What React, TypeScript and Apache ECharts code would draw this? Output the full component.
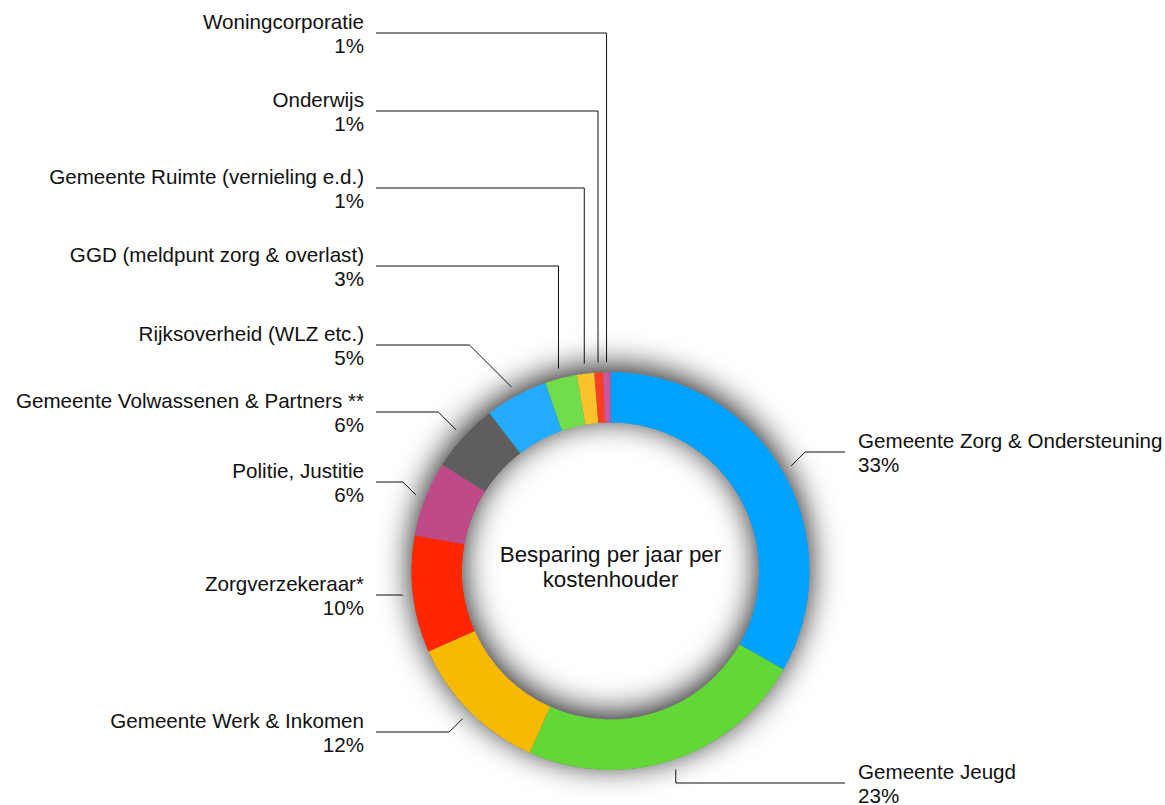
import React, { useEffect, useRef } from 'react';
import * as echarts from 'echarts';

const names = [
  'Gemeente Zorg & Ondersteuning',
  'Gemeente Jeugd',
  'Gemeente Werk & Inkomen',
  'Zorgverzekeraar*',
  'Politie, Justitie',
  'Gemeente Volwassenen & Partners **',
  'Rijksoverheid (WLZ etc.)',
  'GGD (meldpunt zorg & overlast)',
  'Gemeente Ruimte (vernieling e.d.)',
  'Onderwijs',
  'Woningcorporatie',
];
const shares = [33.2, 23.4, 11.7, 9.5, 6.1, 5.6, 5.1, 2.6, 1.4, 0.7, 0.6];
const pctLabels = [33, 23, 12, 10, 6, 6, 5, 3, 1, 1, 1];
const colors = [
  '#00a2ff', '#61d836', '#f8ba00', '#ff2600', '#be4b88', '#5e5e5e',
  '#23abff', '#72dd4c', '#fac32a', '#ff3d22', '#c8579b',
];

// label layout (positions only)
const labelY = [452, 783, 732, 595, 482, 412, 345, 266, 188, 111, 33];
const labelSide = ['right', 'right', 'left', 'left', 'left', 'left', 'left', 'left', 'left', 'left', 'left'];
const bend = ['d', 'v', 'd', 'd', 'd', 'd', 'd', 'v', 'v', 'v', 'v'];

const CX = 610.5;
const CY = 571;
const R0 = 148.5;
const R = 199;
const FONT = "'Liberation Sans', Arial, Helvetica, sans-serif";

export default function App() {
  const ref = useRef<HTMLDivElement>(null);
  useEffect(() => {
    if (!ref.current) return;
    const chart = echarts.init(ref.current, undefined, { renderer: 'svg' });
    const data = names.map((n, i) => ({ name: n, value: shares[i], itemStyle: { color: colors[i] } }));
    chart.setOption({
      animation: false,
      backgroundColor: '#ffffff',
      graphic: [
        {
          type: 'text',
          x: CX,
          y: 567,
          z: 100,
          style: {
            text: 'Besparing per jaar per\nkostenhouder',
            fontSize: 22.4,
            fontFamily: FONT,
            lineHeight: 25,
            fill: '#111111',
            align: 'center',
            verticalAlign: 'middle',
          },
        },
      ],
      series: [
        {
          type: 'pie',
          silent: true,
          z: 1,
          center: [CX, CY],
          radius: [R0, R],
          label: { show: false },
          labelLine: { show: false },
          itemStyle: {
            color: '#666666',
            borderWidth: 0,
            shadowBlur: 32,
            shadowColor: 'rgba(0,0,0,0.9)',
            shadowOffsetY: -5,
          },
          data: [{ value: 1, name: 'bg' }],
        },
        {
          type: 'pie',
          z: 2,
          center: [CX, CY],
          radius: [R0, R],
          startAngle: 90,
          clockwise: true,
          avoidLabelOverlap: false,
          itemStyle: { borderWidth: 0 },
          emphasis: { disabled: true },
          label: {
            show: true,
            position: 'outside',
            formatter: (p: any) => `${p.name}\n${pctLabels[p.dataIndex]}%`,
            fontSize: 20.6,
            lineHeight: 24,
            fontFamily: FONT,
            color: '#111111',
          },
          labelLine: {
            show: true,
            lineStyle: { color: '#111111', width: 1 },
          },
          labelLayout: (params: any) => {
            const i = params.dataIndex;
            const side = labelSide[i];
            const ly = labelY[i];
            const pts = params.labelLinePoints;
            let sx = CX;
            let sy = CY - R;
            if (pts && pts[0]) {
              const dx = pts[0][0] - CX;
              const dy = pts[0][1] - CY;
              const len = Math.sqrt(dx * dx + dy * dy) || 1;
              sx = CX + (dx / len) * (R + 10);
              sy = CY + (dy / len) * (R + 10);
            }
            const sign = side === 'left' ? -1 : 1;
            const ex = bend[i] === 'v' ? sx : sx + sign * Math.abs(ly - sy);
            const endX = side === 'left' ? 376 : 845;
            return {
              x: side === 'left' ? 364 : 858,
              y: ly,
              align: side === 'left' ? 'right' : 'left',
              verticalAlign: 'middle',
              labelLinePoints: [
                [sx, sy],
                [ex, ly],
                [endX, ly],
              ],
            };
          },
          data,
        },
      ],
    });
    return () => chart.dispose();
  }, []);
  return (
    <div
      ref={ref}
      style={{ position: 'fixed', left: 0, top: 0, width: 1165, height: 805, background: '#fff' }}
    />
  );
}
